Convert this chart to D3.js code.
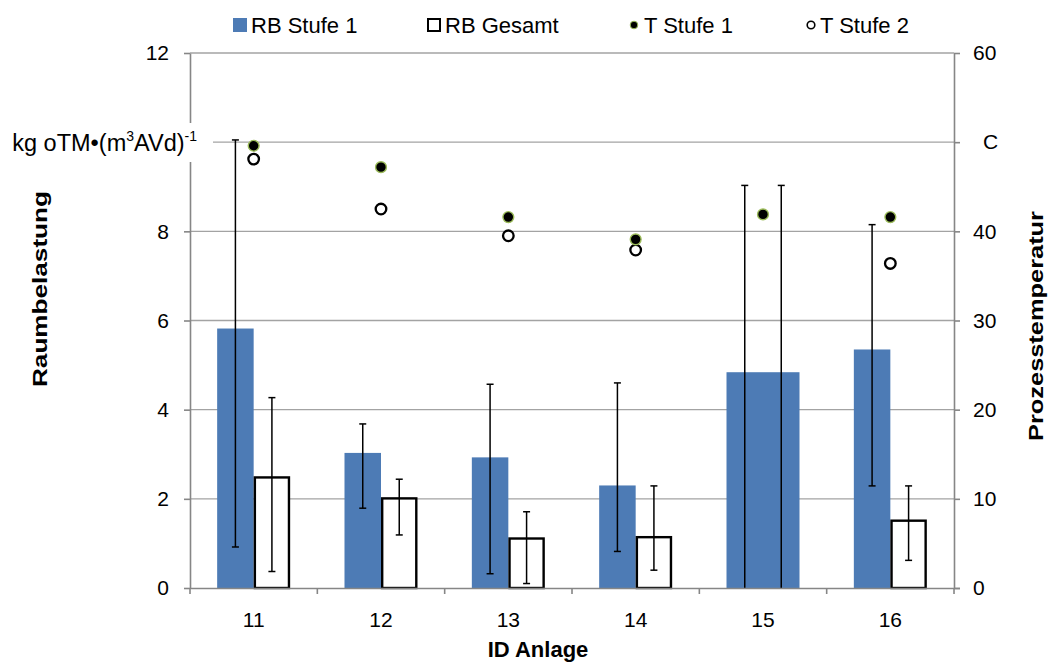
<!DOCTYPE html>
<html>
<head>
<meta charset="utf-8">
<script src="https://cdn.jsdelivr.net/npm/d3@7/dist/d3.min.js"></script>
<style>
  html, body { margin: 0; padding: 0; background: #fff; }
  svg { display: block; font-family: "Liberation Sans", Arial, sans-serif; }
</style>
</head>
<body>
<svg id="chart" width="1049" height="662"></svg>
<script>
// Raumbelastung je Anlage (Stufe 1 und gesamt) mit Min/Max-Streuung
const categories   = ["11", "12", "13", "14", "15", "16"];
const rbStufe1     = [5.82, 3.03, 2.93, 2.30, 4.84, 5.35];
const rbStufe1Min  = [0.92, 1.79, 0.32, 0.82, 0.00, 2.29];
const rbStufe1Max  = [10.05, 3.68, 4.57, 4.60, 9.03, 8.15];
const rbGesamt     = [2.48, 2.01, 1.11, 1.14, 4.84, 1.51];
const rbGesamtMin  = [0.37, 1.19, 0.10, 0.40, 0.00, 0.62];
const rbGesamtMax  = [4.27, 2.44, 1.71, 2.29, 9.03, 2.29];
// Prozesstemperatur (rechte Achse)
const tStufe1      = [49.6, 47.2, 41.6, 39.1, 41.9, 41.6];
const tStufe2      = [48.1, 42.5, 39.5, 37.9, null, 36.4];

const leftTicks        = [0, 2, 4, 6, 8, 10, 12];
const leftTickLabels   = ["0", "2", "4", "6", "8", "", "12"];
const rightTicks       = [0, 10, 20, 30, 40, 50, 60];
const rightTickLabels  = ["0", "10", "20", "30", "40", "C", "60"];
const unitParts        = [["kg oTM\u2022(m", false], ["3", true], ["AVd)", false], ["-1", true]];
const seriesNames      = ["RB Stufe 1", "RB Gesamt", "T Stufe 1", "T Stufe 2"];
const xTitle = "ID Anlage", yTitle = "Raumbelastung", y2Title = "Prozesstemperatur";

// einstufige Anlage: Gesamtbalken wie Stufe 1 gefüllt
const singleStage = new Set(["15"]);

const BLUE = "#4d7bb5", AXIS = "#868686", GRID = "#a3a3a3";
const plotLeft = 190, plotRight = 954, plotTop = 53, plotBottom = 588;

const svg = d3.select("#chart");
svg.append("rect").attr("width", 1049).attr("height", 662).attr("fill", "#fff");

const x0 = d3.scaleBand().domain(categories).range([plotLeft, plotRight])
  .paddingInner(0.4267).paddingOuter(0.2133);
const x1 = d3.scaleBand().domain(["s1", "ges"]).range([0, x0.bandwidth()]);
const y  = d3.scaleLinear().domain([0, 12]).range([plotBottom, plotTop]);
const y2 = d3.scaleLinear().domain([0, 60]).range([plotBottom, plotTop]);

// Gitternetz
svg.append("g").selectAll("line").data(leftTicks.filter(v => v > 0)).join("line")
  .attr("x1", plotLeft).attr("x2", plotRight)
  .attr("y1", d => y(d)).attr("y2", d => y(d))
  .attr("stroke", GRID).attr("stroke-width", 1.4);

const rows = categories.map((c, i) => ({
  c, s1: rbStufe1[i], s1lo: rbStufe1Min[i], s1hi: rbStufe1Max[i],
  g: rbGesamt[i], glo: rbGesamtMin[i], ghi: rbGesamtMax[i],
  t1: tStufe1[i], t2: tStufe2[i]
}));

// Balken
const bars = svg.append("g");
bars.selectAll("rect.s1").data(rows).join("rect").attr("class", "s1")
  .attr("x", d => x0(d.c) + x1("s1"))
  .attr("width", x1.bandwidth())
  .attr("y", d => y(d.s1)).attr("height", d => y(0) - y(d.s1))
  .attr("fill", BLUE);
bars.selectAll("rect.g").data(rows).join("rect").attr("class", "g")
  .attr("x", d => x0(d.c) + x1("ges") + (singleStage.has(d.c) ? 0 : 1.2))
  .attr("width", d => x1.bandwidth() - (singleStage.has(d.c) ? 0 : 2.4))
  .attr("y", d => y(d.g)).attr("height", d => y(0) - y(d.g))
  .attr("fill", d => singleStage.has(d.c) ? BLUE : "#fff")
  .attr("stroke", d => singleStage.has(d.c) ? "none" : "#000")
  .attr("stroke-width", 2.4);

// Fehlerbalken
function errorBars(getX, lo, hi) {
  const g = svg.append("g").attr("stroke", "#000").attr("stroke-width", 1.5);
  rows.forEach(d => {
    const cx = getX(d);
    g.append("line").attr("x1", cx).attr("x2", cx).attr("y1", y(lo(d))).attr("y2", y(hi(d)));
    [lo(d), hi(d)].forEach(v => {
      if (v <= 0) return;
      g.append("line").attr("x1", cx - 3.5).attr("x2", cx + 3.5).attr("y1", y(v)).attr("y2", y(v));
    });
  });
}
errorBars(d => x0(d.c) + x1("s1") + x1.bandwidth() / 2, d => d.s1lo, d => d.s1hi);
errorBars(d => x0(d.c) + x1("ges") + x1.bandwidth() / 2, d => d.glo, d => d.ghi);

// Temperaturpunkte
const pts = svg.append("g");
pts.selectAll("circle.t2").data(rows.filter(d => d.t2 != null)).join("circle").attr("class", "t2")
  .attr("cx", d => x0(d.c) + x0.bandwidth() / 2).attr("cy", d => y2(d.t2)).attr("r", 5.3)
  .attr("fill", "#fff").attr("stroke", "#000").attr("stroke-width", 2.3);
pts.selectAll("circle.t1").data(rows).join("circle").attr("class", "t1")
  .attr("cx", d => x0(d.c) + x0.bandwidth() / 2).attr("cy", d => y2(d.t1)).attr("r", 5.4)
  .attr("fill", "#000").attr("stroke", "#9bbb59").attr("stroke-width", 1.4);

// Achsen
function styleAxis(g) {
  g.selectAll("path.domain, line").attr("stroke", AXIS).attr("stroke-width", 1.6);
  g.selectAll("text").attr("fill", "#000").attr("font-size", 21)
    .attr("font-family", "'Liberation Sans', Arial, sans-serif");
}
const yAxis = svg.append("g").attr("transform", `translate(${plotLeft},0)`)
  .call(d3.axisLeft(y).tickValues(leftTicks).tickSizeInner(6).tickSizeOuter(0).tickPadding(15)
    .tickFormat((d, i) => leftTickLabels[i]));
styleAxis(yAxis);

const y2Axis = svg.append("g").attr("transform", `translate(${plotRight},0)`)
  .call(d3.axisRight(y2).tickValues(rightTicks).tickSizeInner(6).tickSizeOuter(0).tickPadding(13)
    .tickFormat((d, i) => rightTickLabels[i]));
styleAxis(y2Axis);
y2Axis.selectAll(".tick text").filter(d => d === 50).attr("dx", 10);

const xAxis = svg.append("g").attr("transform", `translate(0,${plotBottom})`)
  .call(d3.axisBottom(x0).tickSize(0).tickPadding(24));
styleAxis(xAxis);
xAxis.select("path.domain").attr("d", `M${plotLeft},0.5H${plotRight + 6}`);
xAxis.selectAll(".tick text").attr("dy", "0.71em");
// Trennstriche zwischen den Kategorien
svg.append("g").selectAll("line").data(d3.range(categories.length + 1)).join("line")
  .attr("x1", i => plotLeft + i * x0.step()).attr("x2", i => plotLeft + i * x0.step())
  .attr("y1", plotBottom).attr("y2", plotBottom + 6)
  .attr("stroke", AXIS).attr("stroke-width", 1.6);

// Einheitenbeschriftung an der linken Achse (mit weißem Hintergrund)
svg.append("rect").attr("x", 4).attr("y", 123).attr("width", 209).attr("height", 39).attr("fill", "#fff");
const unit = svg.append("text").attr("x", 197).attr("y", y(10) + 9)
  .attr("text-anchor", "end").attr("font-size", 23.5).attr("fill", "#000");
unitParts.forEach(([t, sup], i) => {
  const ts = unit.append("tspan").text(t);
  if (sup) ts.attr("font-size", 14).attr("dy", -10);
  else if (i > 0) ts.attr("dy", 10);
});

// Achsentitel
svg.append("text").attr("x", 538).attr("y", 657)
  .attr("text-anchor", "middle").attr("font-size", 22).attr("font-weight", "bold").text(xTitle);
svg.append("text").attr("transform", "translate(47,289) rotate(-90)")
  .attr("text-anchor", "middle").attr("font-size", 21).attr("font-weight", "bold")
  .attr("textLength", 196).attr("lengthAdjust", "spacingAndGlyphs").text(yTitle);
svg.append("text").attr("transform", "translate(1043,326) rotate(-90)")
  .attr("text-anchor", "middle").attr("font-size", 21).attr("font-weight", "bold")
  .attr("textLength", 230).attr("lengthAdjust", "spacingAndGlyphs").text(y2Title);

// Legende
const leg = svg.append("g").attr("font-size", 22);
const legItems = [
  { sx: 233, tx: 251, name: seriesNames[0], kind: "bar" },
  { sx: 427, tx: 445, name: seriesNames[1], kind: "box" },
  { sx: 634, tx: 644, name: seriesNames[2], kind: "dot" },
  { sx: 811, tx: 820, name: seriesNames[3], kind: "ring" }
];
legItems.forEach(it => {
  if (it.kind === "bar") leg.append("rect").attr("x", it.sx).attr("y", 18).attr("width", 14).attr("height", 14).attr("fill", BLUE);
  if (it.kind === "box") leg.append("rect").attr("x", it.sx + 1).attr("y", 19).attr("width", 12).attr("height", 12)
    .attr("fill", "#fff").attr("stroke", "#000").attr("stroke-width", 2);
  if (it.kind === "dot") leg.append("circle").attr("cx", it.sx).attr("cy", 25).attr("r", 3.8)
    .attr("fill", "#000").attr("stroke", "#9bbb59").attr("stroke-width", 1);
  if (it.kind === "ring") leg.append("circle").attr("cx", it.sx).attr("cy", 25).attr("r", 3.8)
    .attr("fill", "#fff").attr("stroke", "#000").attr("stroke-width", 1.6);
  leg.append("text").attr("x", it.tx).attr("y", 32.5).text(it.name);
});
</script>
</body>
</html>
